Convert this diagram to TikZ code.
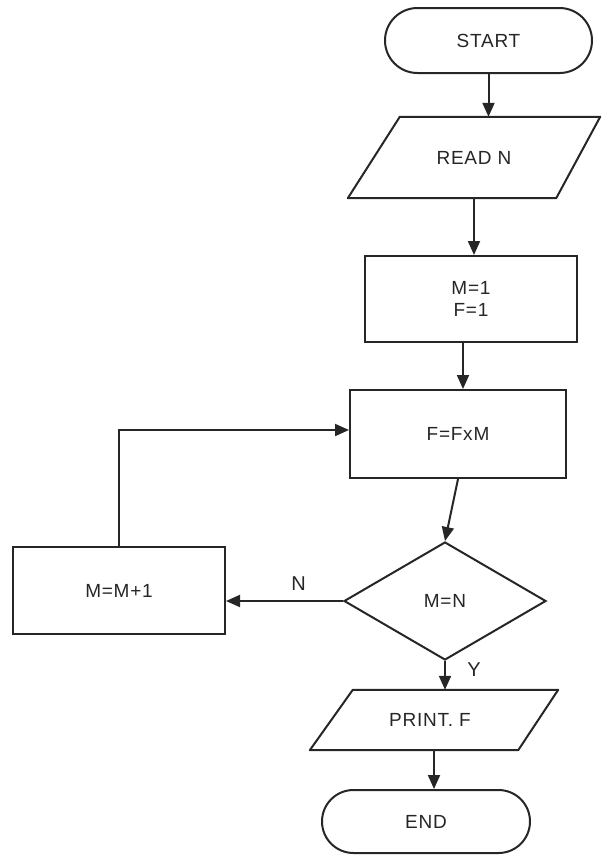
\documentclass[tikz,border=0pt]{standalone}
\usepackage{fontspec}
\setmainfont[LetterSpace=4]{Liberation Sans}
\usetikzlibrary{shapes.geometric,shapes.misc,arrows.meta,calc}
\begin{document}
\begin{tikzpicture}[x=1pt,y=-1pt,
  every node/.style={font=\fontsize{19}{22}\selectfont, text=black!85},
  base/.style={draw=black!85, line width=2pt, inner sep=0pt, fill=white},
  term/.style={base, rounded rectangle},
  proc/.style={base, rectangle, align=center},
  iobox/.style={inner sep=0pt, rectangle},
  decision/.style={base, diamond},
  conn/.style={draw=black!85, line width=2pt, -{Triangle[length=14pt,width=12pt]}},
  outline/.style={draw=black!85, line width=2pt, line join=round},
  lbl/.style={font=\fontsize{20}{22}\selectfont}
]
\useasboundingbox (0,0) rectangle (602,857);

\node[term, minimum width=207pt, minimum height=65pt] (start) at (488.5,40.5) {START};

\node[iobox, minimum width=252pt, minimum height=81pt] (read) at (474,157.5) {};
\draw[outline] ([xshift=52pt]read.north west) -- (read.north east)
  -- ([xshift=-44pt]read.south east) -- (read.south west) -- cycle;
\node (readtxt) at (read.center) {READ N};

\node[proc, minimum width=212pt, minimum height=86pt] (init) at (471,299) {M=1\\F=1};
\node[proc, minimum width=216pt, minimum height=88pt] (mult) at (458,434) {F=FxM};
\node[decision, minimum width=202pt, minimum height=118pt] (test) at (445,601) {M=N};
\node[proc, minimum width=212pt, minimum height=87pt] (inc) at (119,590.5) {M=M+1};

\node[iobox, minimum width=248pt, minimum height=60pt] (print) at (434,720) {};
\draw[outline] ([xshift=43pt]print.north west) -- (print.north east)
  -- ([xshift=-40pt]print.south east) -- (print.south west) -- cycle;
\node (printtxt) at ([xshift=-4pt]print.center) {PRINT. F};

\node[term, minimum width=208pt, minimum height=63pt] (stop) at (426,821.5) {END};

\draw[conn] (start.south) -- (start.south |- read.north);
\draw[conn] (read.south) -- (read.south |- init.north);
\draw[conn] ([xshift=-8pt]init.south) -- ([xshift=-8pt]init.south |- mult.north);
\draw[conn] (mult.south) -- (test.north);
\draw[conn] (test.west) -- (test.west -| inc.east)
  node[lbl, pos=0.38, above=6pt] (nlbl) {N};
\draw[conn] (inc.north) |- ([yshift=4pt]mult.west);
\draw[conn] (test.south) -- (test.south |- print.north)
  node[lbl, pos=0.3, right=18pt] (ylbl) {Y};
\draw[conn] (print.south) -- (print.south |- stop.north);
\end{tikzpicture}
\end{document}
